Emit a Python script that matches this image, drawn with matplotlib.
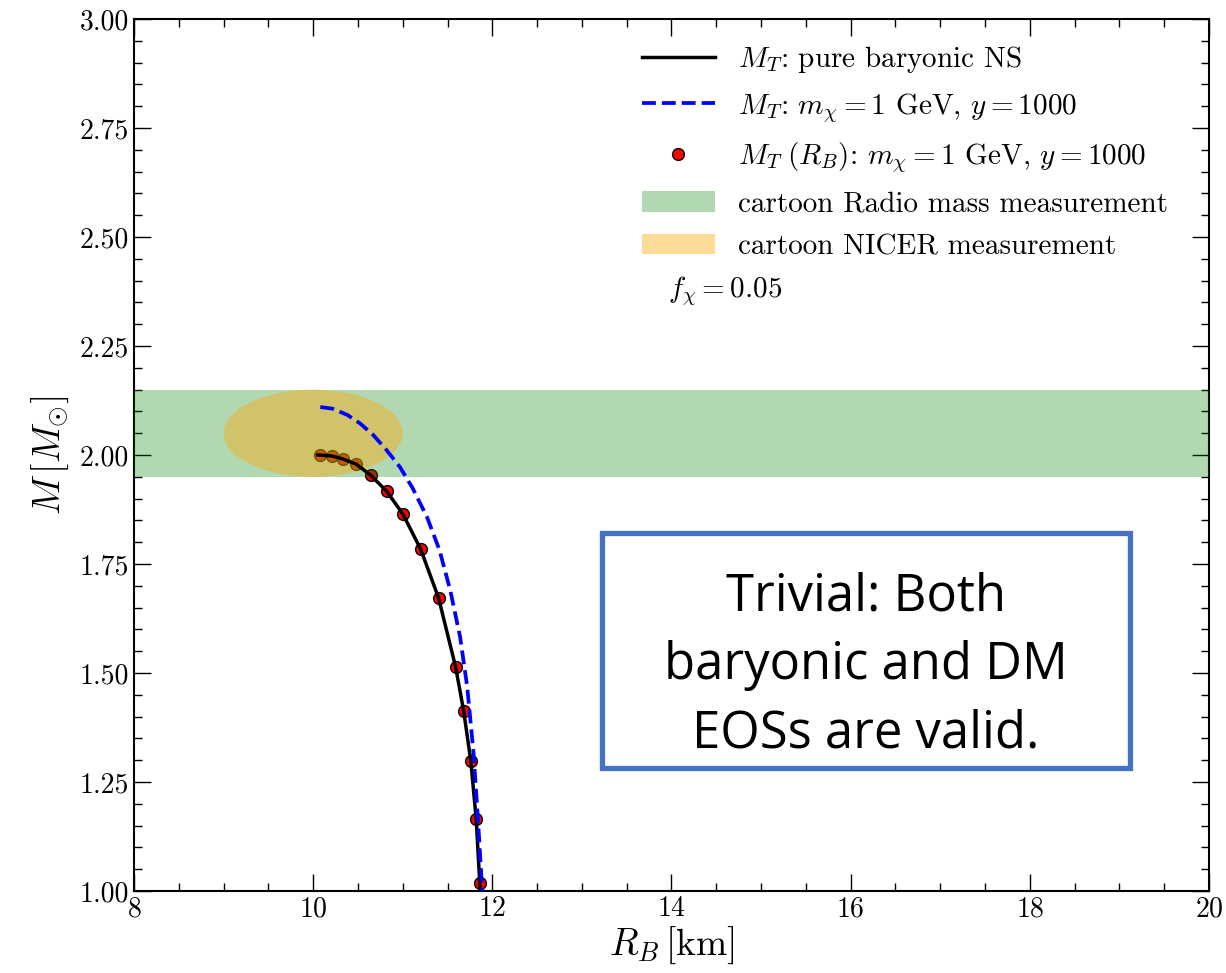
import numpy as np
import matplotlib
matplotlib.use("Agg")
import matplotlib.pyplot as plt
from matplotlib.patches import Ellipse, Rectangle

plt.rcParams['font.family'] = 'serif'
plt.rcParams['font.serif'] = ['cmr10']
plt.rcParams['mathtext.fontset'] = 'cm'
plt.rcParams['axes.formatter.use_mathtext'] = True

# pure baryonic NS M-R curve
r_bary = [10.05, 10.2, 10.33, 10.48, 10.64, 10.82, 11.0, 11.2, 11.4, 11.59, 11.68, 11.76, 11.82, 11.86, 11.88]
m_bary = [2.0, 1.998, 1.991, 1.979, 1.954, 1.917, 1.865, 1.784, 1.672, 1.514, 1.413, 1.298, 1.165, 1.018, 0.97]

# DM admixed total mass vs total radius
r_dm = [10.08, 10.22, 10.38, 10.52, 10.67, 10.82, 10.97, 11.11, 11.27, 11.41, 11.53, 11.64, 11.72, 11.79, 11.84, 11.88, 11.9]
m_dm = [2.11, 2.106, 2.092, 2.073, 2.046, 2.011, 1.972, 1.924, 1.858, 1.782, 1.69, 1.583, 1.468, 1.317, 1.163, 1.025, 0.97]

# M_T vs baryonic radius
r_pts = [10.08, 10.21, 10.33, 10.48, 10.645, 10.82, 11.0, 11.2, 11.4, 11.59, 11.68, 11.76, 11.82, 11.86]
m_pts = [2.0, 1.998, 1.991, 1.979, 1.954, 1.917, 1.865, 1.784, 1.672, 1.514, 1.413, 1.298, 1.165, 1.018]

fig = plt.figure(figsize=(12.26, 9.73), dpi=100)
ax = fig.add_axes([0.1093, 0.0843, 0.8768, 0.8962])

ax.plot(r_bary, m_bary, color='black', lw=2.5, label=r'$M_T$: pure baryonic NS', zorder=4)
ax.plot(r_dm, m_dm, color='blue', ls='--', lw=2.7, label=r'$M_T$: $m_\chi=1$ GeV, $y=1000$', zorder=4)
ax.plot(r_pts, m_pts, ls='', marker='o', ms=8.5, mfc='red', mec='black', mew=1,
        label=r'$M_T\;(R_B)$: $m_\chi=1$ GeV, $y=1000$', zorder=2)

ax.axhspan(1.95, 2.15, color='green', alpha=0.3, lw=0, zorder=3,
           label='cartoon Radio mass measurement')
ell = Ellipse((10.0, 2.05), 2.0, 0.2, color='orange', alpha=0.4, lw=0, zorder=3,
              label='cartoon NICER measurement')
ax.add_patch(ell)

ax.text(13.96, 2.376, r'$f_\chi=0.05$', fontsize=21, va='center', ha='left')

ax.set_xlim(8, 20)
ax.set_ylim(1.0, 3.0)
ax.set_xticks(np.arange(8, 21, 2))
ax.set_xticks(np.arange(8, 20.01, 0.5), minor=True)
ax.set_yticks(np.arange(1.0, 3.01, 0.25))
ax.set_yticks(np.arange(1.0, 3.001, 0.05), minor=True)
ax.yaxis.set_major_formatter(matplotlib.ticker.FormatStrFormatter('%.2f'))
ax.tick_params(which='both', direction='in', top=True, right=True, labelsize=20)
ax.tick_params(which='major', length=12, width=1)
ax.tick_params(which='minor', length=6, width=1)
for s in ax.spines.values():
    s.set_linewidth(1.5)

ax.set_xlabel(r'$R_B\,[\mathrm{km}]$', fontsize=27, labelpad=2)
ax.set_ylabel(r'$M\,[M_{\odot}]$', fontsize=27, labelpad=6)

ax.legend(loc='upper right', bbox_to_anchor=(0.973, 0.985), frameon=False, fontsize=21,
          handlelength=2.5, labelspacing=0.55, borderaxespad=0)

# annotation box
ax.add_patch(Rectangle((0.435, 0.141), 0.4915, 0.2696, transform=ax.transAxes,
                       fill=False, edgecolor='#4472C4', lw=3.8, zorder=5))
ax.text(0.681, 0.259, 'Trivial: Both\nbaryonic and DM\nEOSs are valid.', transform=ax.transAxes,
        ha='center', va='center', fontsize=36.5, family='Open Sans', linespacing=1.45, zorder=6)

fig.savefig('out.png', dpi=100)
